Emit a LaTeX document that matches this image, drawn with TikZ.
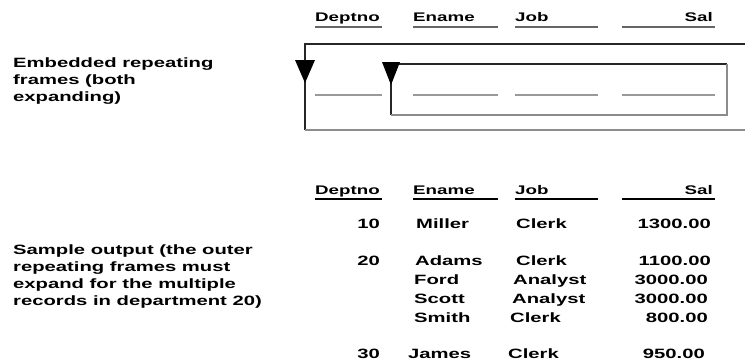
\documentclass[tikz,border=0pt]{standalone}
\usepackage{fontspec}
\setmainfont{Liberation Sans}[FakeStretch=1.5]

\begin{document}
\begin{tikzpicture}[x = 1pt, y = -1pt,
	lbl/.style  = {font = \bfseries\fontsize{13.5}{17}\selectfont, align = left, anchor = north west, inner sep = 0pt},
	hdr/.style  = {font = \bfseries\fontsize{12.5}{14}\selectfont, inner sep = 0pt},
	dat/.style  = {font = \bfseries\fontsize{13.5}{15}\selectfont, inner sep = 0pt},
	ftop/.style = {black!85, line width = 2pt},
	fbot/.style = {black!45, line width = 2pt},
	fld/.style  = {black!40, line width = 1.5pt}]
	\useasboundingbox (0, 0) rectangle (745, 360);

	% labels on the left
	\node[lbl] (embedded) at (13, 57.5) {Embedded repeating\\frames (both\\expanding)};
	\node[lbl] (sample)   at (13, 245)  {Sample output (the outer\\repeating frames must\\expand for the multiple\\records in department 20)};

	% layout headings
	\node[hdr, anchor = base west] (deptA) at (315, 21) {Deptno};
	\node[hdr, anchor = base west] (enameA) at (413, 21) {Ename};
	\node[hdr, anchor = base west] (jobA) at (515, 21) {Job};
	\node[hdr, anchor = base east] (salA) at (713, 21) {Sal};
	\draw[black!60, line width = 1.5pt] (315, 27) -- (382, 27);
	\draw[black!60, line width = 1.5pt] (413, 27) -- (498, 27);
	\draw[black!60, line width = 1.5pt] (515, 27) -- (598, 27);
	\draw[black!60, line width = 1.5pt] (622, 27) -- (715, 27);

	% outer repeating frame
	\draw[ftop] (745, 44) -- (305, 44) -- (305, 130);
	\draw[fbot] (305, 130) -- (745, 130);
	\fill (295, 60) -- (315, 60) -- (305, 83) -- cycle;

	% inner repeating frame
	\draw[ftop] (391, 115) -- (391, 64) -- (727, 64);
	\draw[fbot] (727, 64) -- (727, 115) -- (391, 115);
	\fill (382, 62) -- (400, 62) -- (391, 85) -- cycle;

	% fields
	\draw[fld] (315, 95) -- (382, 95);
	\draw[fld] (413, 95) -- (498, 95);
	\draw[fld] (515, 95) -- (598, 95);
	\draw[fld] (622, 95) -- (715, 95);

	% output headings
	\node[hdr, anchor = base west] (deptB) at (315, 194) {Deptno};
	\node[hdr, anchor = base west] (enameB) at (413, 194) {Ename};
	\node[hdr, anchor = base west] (jobB) at (515, 194) {Job};
	\node[hdr, anchor = base east] (salB) at (713, 194) {Sal};
	\draw[black, line width = 1.5pt] (315, 199) -- (382, 199);
	\draw[black, line width = 1.5pt] (413, 199) -- (498, 199);
	\draw[black, line width = 1.5pt] (515, 199) -- (598, 199);
	\draw[black, line width = 1.5pt] (622, 199) -- (715, 199);

	% output records
	\node[dat, anchor = base east] (d10) at (380, 228) {10};
	\node[dat, anchor = base west] (miller) at (416, 228) {Miller};
	\node[dat, anchor = base west] (jmiller) at (516, 228) {Clerk};
	\node[dat, anchor = base east] (smiller) at (711, 228) {1300.00};

	\node[dat, anchor = base east] (d20) at (380, 265) {20};
	\node[dat, anchor = base west] (adams) at (415, 265) {Adams};
	\node[dat, anchor = base west] (jadams) at (516, 265) {Clerk};
	\node[dat, anchor = base east] (sadams) at (711, 265) {1100.00};

	\node[dat, anchor = base west] (ford) at (414, 284) {Ford};
	\node[dat, anchor = base west] (jford) at (513, 284) {Analyst};
	\node[dat, anchor = base east] (sford) at (708, 284) {3000.00};

	\node[dat, anchor = base west] (scott) at (414, 303) {Scott};
	\node[dat, anchor = base west] (jscott) at (512, 303) {Analyst};
	\node[dat, anchor = base east] (sscott) at (708, 303) {3000.00};

	\node[dat, anchor = base west] (smith) at (414, 322) {Smith};
	\node[dat, anchor = base west] (jsmith) at (510, 322) {Clerk};
	\node[dat, anchor = base east] (ssmith) at (708, 322) {800.00};

	\node[dat, anchor = base east] (d30) at (380, 358) {30};
	\node[dat, anchor = base west] (james) at (408, 358) {James};
	\node[dat, anchor = base west] (jjames) at (508, 358) {Clerk};
	\node[dat, anchor = base east] (sjames) at (705, 358) {950.00};
\end{tikzpicture}
\end{document}
